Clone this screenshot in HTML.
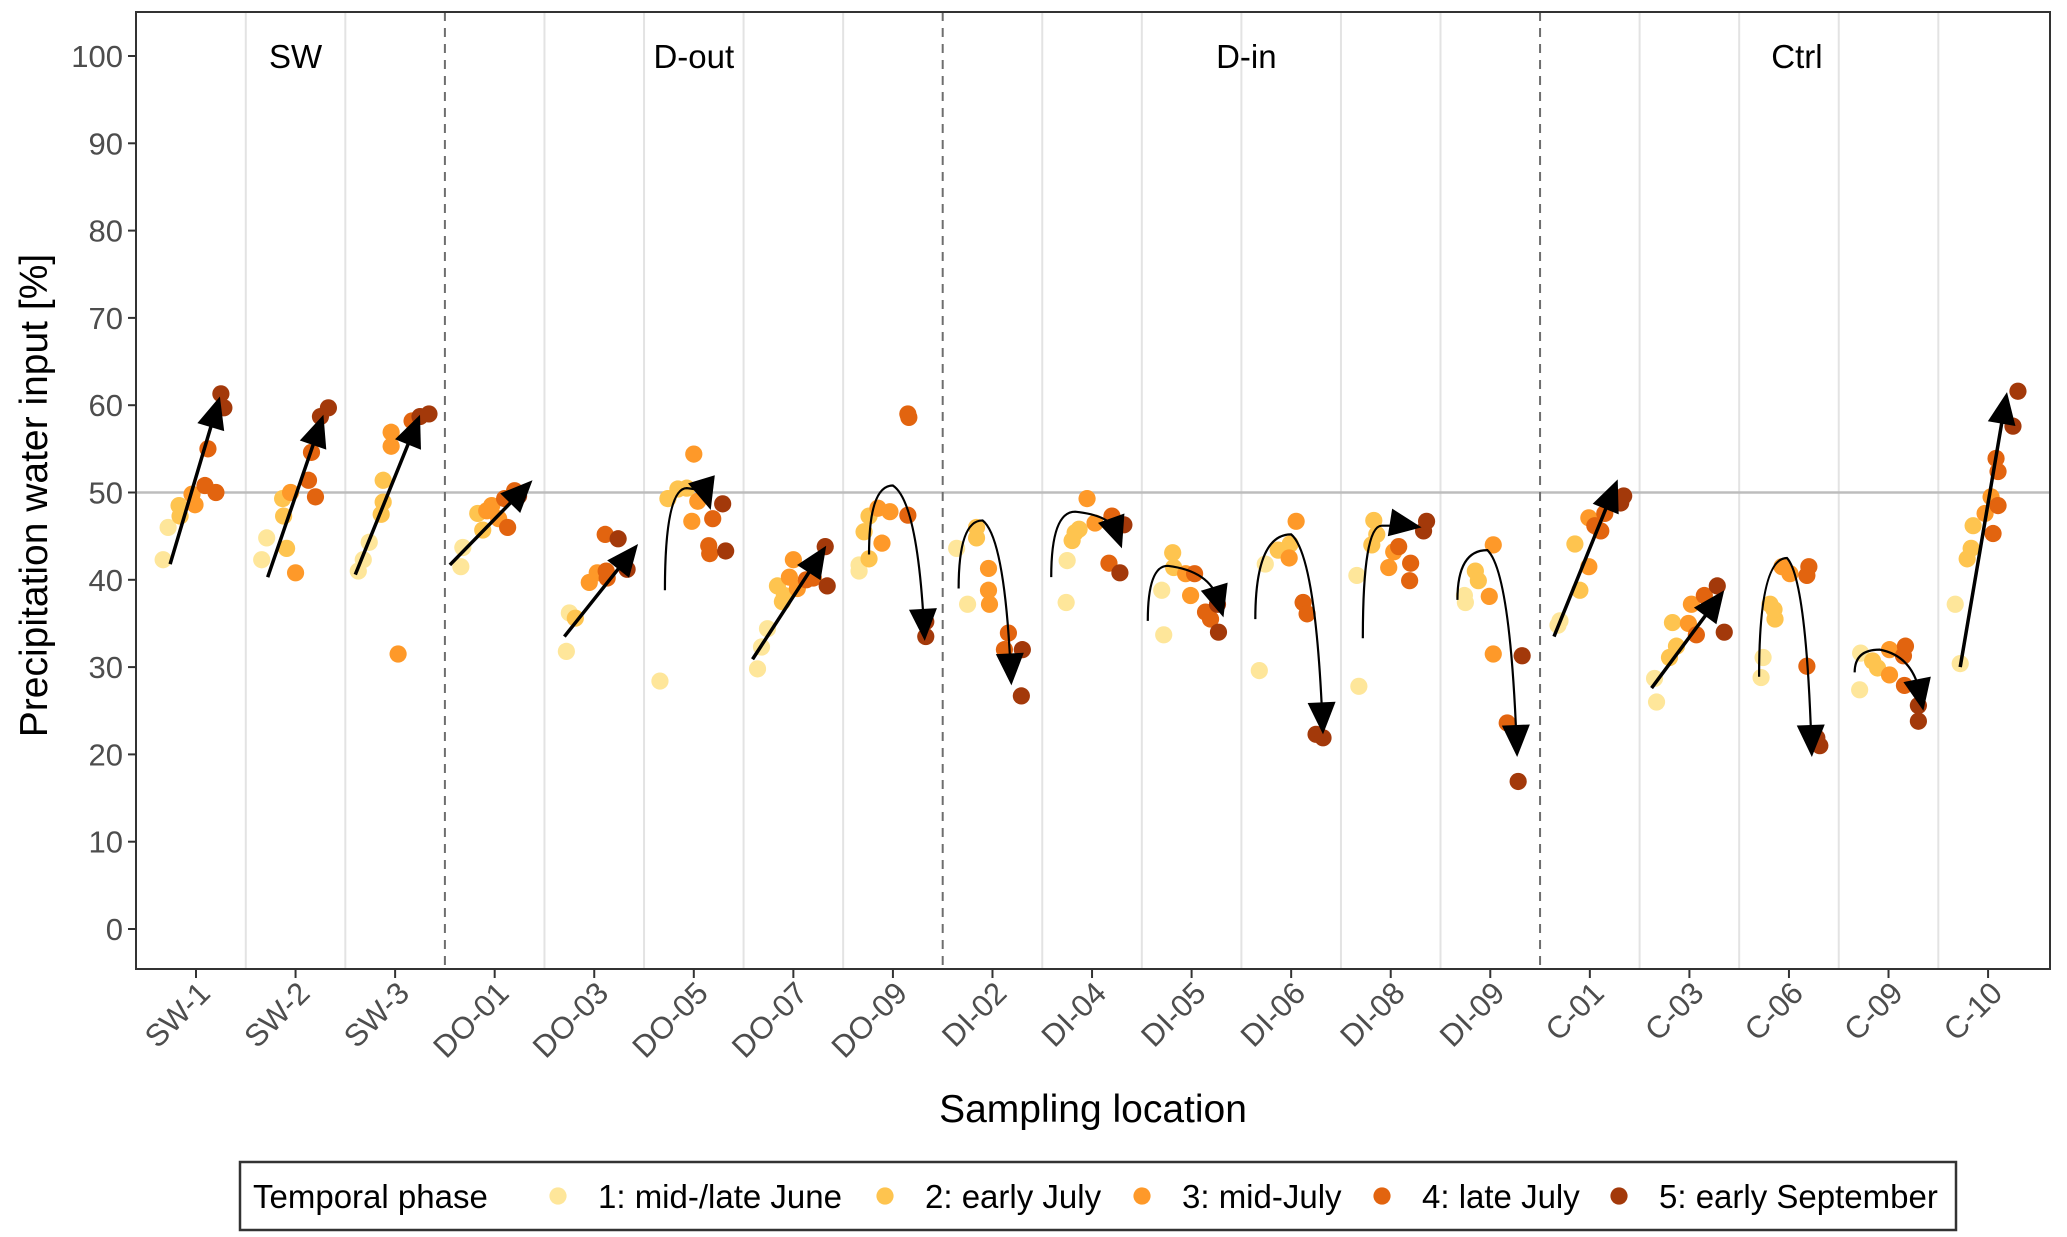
<!DOCTYPE html>
<html><head><meta charset="utf-8"><style>
body{margin:0;background:#fff}
svg{display:block;font-family:"Liberation Sans",sans-serif}
</style></head><body>
<svg id="chart" width="2067" height="1237" viewBox="0 0 2067 1237" xmlns="http://www.w3.org/2000/svg">
<g id="grid"></g>
<g id="marks"></g>
<g id="arrows"></g>
<g id="axes"></g>
<g id="legend"></g>
</svg>
<script>
const categories=["SW-1","SW-2","SW-3","DO-01","DO-03","DO-05","DO-07","DO-09","DI-02","DI-04","DI-05","DI-06","DI-08","DI-09","C-01","C-03","C-06","C-09","C-10"];
const yTicks=[0,10,20,30,40,50,60,70,80,90,100];
const groupLabels=["SW","D-out","D-in","Ctrl"];
const groupPos=[1,5,10.55,16.08];
const groupBreaks=[2.5,7.5,13.5];
const phaseLabels=["1: mid-/late June","2: early July","3: mid-July","4: late July","5: early September"];
const phaseColors=["#fee69a","#fec44f","#fe9929","#e2640f","#a3390a"];
// points: [category index, jitter (category units), value, phase]
const points=[
[0,-0.33,42.3,1],[0,-0.28,46,1],[0,-0.17,48.5,2],[0,-0.16,47.3,2],[0,-0.04,49.8,3],[0,-0.01,48.6,3],[0,0.09,50.8,4],[0,0.12,55,4],[0,0.2,50,4],[0,0.25,61.3,5],[0,0.28,59.7,5],
[1,-0.34,42.3,1],[1,-0.29,44.8,1],[1,-0.13,49.3,2],[1,-0.12,47.3,2],[1,-0.09,43.6,2],[1,-0.05,50,3],[1,0,40.8,3],[1,0.13,51.4,4],[1,0.16,54.6,4],[1,0.2,49.5,4],[1,0.25,58.7,5],[1,0.33,59.7,5],
[2,-0.37,41,1],[2,-0.32,42.3,1],[2,-0.26,44.3,1],[2,-0.12,51.4,2],[2,-0.14,47.5,2],[2,-0.12,48.9,2],[2,-0.04,56.9,3],[2,-0.04,55.3,3],[2,0.03,31.5,3],[2,0.17,58.2,4],[2,0.25,58.7,5],[2,0.34,59,5],
[3,-0.34,41.5,1],[3,-0.32,43.7,1],[3,-0.17,47.6,2],[3,-0.12,45.7,2],[3,-0.08,47.9,3],[3,-0.03,48.5,3],[3,0.04,47,3],[3,0.13,46,4],[3,0.1,49.3,4],[3,0.24,49.6,5],[3,0.2,50.2,4],
[4,-0.28,31.8,1],[4,-0.25,36.2,1],[4,-0.19,35.6,2],[4,-0.05,39.7,3],[4,0.03,40.8,3],[4,0.12,41,4],[4,0.11,45.2,4],[4,0.13,40.2,4],[4,0.24,44.7,5],[4,0.33,41.2,5],
[5,-0.34,28.4,1],[5,-0.26,49.3,2],[5,-0.16,50.4,2],[5,-0.07,50.5,2],[5,-0.02,46.7,3],[5,0,54.4,3],[5,0.04,49,3],[5,0.15,43.9,4],[5,0.16,43,4],[5,0.19,47,4],[5,0.29,48.7,5],[5,0.32,43.3,5],
[6,-0.36,29.8,1],[6,-0.32,32.3,1],[6,-0.26,34.4,1],[6,-0.16,39.3,2],[6,-0.09,38.2,2],[6,-0.11,37.5,2],[6,-0.04,40.3,3],[6,0,42.3,3],[6,0.04,39,3],[6,0.13,40,4],[6,0.2,40.2,4],[6,0.32,43.8,5],[6,0.34,39.3,5],
[7,-0.34,41.7,1],[7,-0.34,41,1],[7,-0.29,45.5,2],[7,-0.24,42.4,2],[7,-0.24,47.3,2],[7,-0.15,48.2,3],[7,-0.11,44.2,3],[7,-0.03,47.8,3],[7,0.15,47.4,4],[7,0.15,59,4],[7,0.16,58.6,4],[7,0.33,35.2,5],[7,0.33,33.5,5],
[8,-0.36,43.6,1],[8,-0.25,37.2,1],[8,-0.16,46,2],[8,-0.16,44.8,2],[8,-0.04,41.3,3],[8,-0.04,38.8,3],[8,-0.03,37.2,3],[8,0.16,33.9,4],[8,0.12,32,4],[8,0.3,32,5],[8,0.29,26.7,5],
[9,-0.26,37.4,1],[9,-0.25,42.2,1],[9,-0.2,44.5,2],[9,-0.17,45.4,2],[9,-0.13,45.8,2],[9,-0.05,49.3,3],[9,0.03,46.5,3],[9,0.17,41.9,4],[9,0.2,47.3,4],[9,0.28,40.8,5],[9,0.32,46.3,5],
[10,-0.28,33.7,1],[10,-0.3,38.8,1],[10,-0.19,43.1,2],[10,-0.18,41.4,2],[10,-0.06,40.7,3],[10,-0.01,38.2,3],[10,0.03,40.7,4],[10,0.14,36.3,4],[10,0.19,35.5,4],[10,0.26,37.2,5],[10,0.27,34,5],
[11,-0.32,29.6,1],[11,-0.26,41.8,1],[11,-0.13,43.4,2],[11,-0.01,44.1,2],[11,-0.02,42.5,3],[11,0.05,46.7,3],[11,0.12,37.4,4],[11,0.16,36.1,4],[11,0.25,22.3,5],[11,0.32,21.9,5],
[12,-0.32,27.8,1],[12,-0.34,40.5,1],[12,-0.17,46.8,2],[12,-0.14,45.2,2],[12,-0.19,44,2],[12,-0.02,41.4,3],[12,0.03,43.2,3],[12,0.08,43.8,4],[12,0.2,41.9,4],[12,0.19,39.9,4],[12,0.33,45.6,5],[12,0.36,46.7,5],
[13,-0.25,37.4,1],[13,-0.26,38.2,1],[13,-0.15,41,2],[13,-0.12,39.9,2],[13,0.03,44,3],[13,-0.01,38.1,3],[13,0.03,31.5,3],[13,0.17,23.6,4],[13,0.32,31.3,5],[13,0.28,16.9,5],
[14,-0.32,34.8,1],[14,-0.3,35.3,1],[14,-0.15,44.1,2],[14,-0.1,38.8,2],[14,-0.01,41.5,3],[14,-0.01,47.1,3],[14,0.05,46.2,4],[14,0.11,45.6,4],[14,0.15,47.6,4],[14,0.31,48.8,5],[14,0.34,49.6,5],
[15,-0.33,26,1],[15,-0.35,28.7,1],[15,-0.17,35.1,2],[15,-0.13,32.4,2],[15,-0.2,31.1,2],[15,0.02,37.2,3],[15,-0.01,35,3],[15,0.07,33.7,4],[15,0.15,38.2,4],[15,0.28,39.3,5],[15,0.35,34,5],
[16,-0.28,28.8,1],[16,-0.26,31.1,1],[16,-0.19,37.2,2],[16,-0.14,35.5,2],[16,-0.15,36.6,2],[16,-0.07,41.5,3],[16,0.01,40.7,3],[16,0.2,41.5,4],[16,0.18,40.5,4],[16,0.18,30.1,4],[16,0.31,21,5],[16,0.28,21.9,5],
[17,-0.29,27.4,1],[17,-0.28,31.6,1],[17,-0.16,30.7,2],[17,-0.11,29.9,2],[17,0.01,29.1,3],[17,0.01,32,3],[17,0.15,31.3,4],[17,0.17,32.4,4],[17,0.16,27.9,4],[17,0.3,23.8,5],[17,0.3,25.6,5],
[18,-0.33,37.2,1],[18,-0.28,30.4,1],[18,-0.21,42.4,2],[18,-0.17,43.6,2],[18,-0.15,46.2,2],[18,-0.03,47.6,3],[18,0.03,49.5,3],[18,0.05,45.3,4],[18,0.1,48.5,4],[18,0.1,52.4,4],[18,0.08,53.9,4],[18,0.25,57.6,5],[18,0.3,61.6,5]
];
// straight trend arrows: [cat, startDx, startVal, tipDx, tipVal]
const straightArrows=[
[0,-0.26,41.8,0.24,61],[1,-0.28,40.3,0.28,58.9],[2,-0.4,40.6,0.25,58.9],[3,-0.45,41.7,0.38,51.4],
[4,-0.3,33.5,0.44,44.1],[6,-0.41,30.9,0.33,43.9],[14,-0.36,33.5,0.28,51.5],[15,-0.38,27.6,0.35,38.8],[18,-0.28,30,0.19,61.5]
];
// curved trend arrows: [cat, startDx, startVal, peakDx, peakVal, tipDx, tipVal]
const curvedArrows=[
[5,-0.29,38.8,-0.07,50.5,0.17,48],[7,-0.24,42.9,0,50.8,0.32,33],[8,-0.34,39,-0.1,46.8,0.19,27.9],
[9,-0.41,40.3,-0.17,47.8,0.3,43.6],[10,-0.44,35.3,-0.24,41.6,0.32,35.7],[11,-0.36,35.5,0,45.2,0.32,22.3],
[12,-0.28,33.3,-0.09,46.2,0.31,46],[13,-0.33,37.7,-0.03,43.4,0.27,19.7],[16,-0.3,28.9,-0.02,42.5,0.23,19.7],
[17,-0.34,29.4,-0.09,32,0.35,25]
];

const NS="http://www.w3.org/2000/svg";
const L=136,R=2050,T=12,B=969;
const x=c=>196+c*99.56;
const y=v=>929-v*8.73;
function mk(tag,attrs,parent,text){const e=document.createElementNS(NS,tag);for(const k in attrs)e.setAttribute(k,attrs[k]);if(text!==undefined)e.textContent=text;parent.appendChild(e);return e;}
const grid=document.getElementById('grid'),marks=document.getElementById('marks'),arrows=document.getElementById('arrows'),axes=document.getElementById('axes'),legend=document.getElementById('legend');

for(let i=0;i<categories.length-1;i++){
  const b=i+0.5;
  if(groupBreaks.includes(b))continue;
  const ln=mk('line',{x1:x(b),x2:x(b),y1:T,y2:B,stroke:'#e3e3e3','stroke-width':2},grid);
  
  
}
const hl=mk('line',{x1:L,x2:R,y1:y(50),y2:y(50),stroke:'#bdbdbd','stroke-width':2.5},grid);


groupBreaks.forEach(b=>{
  const ln=mk('line',{x1:x(b),x2:x(b),y1:T,y2:B,stroke:'#6e6e6e','stroke-width':2,'stroke-dasharray':'9,7'},grid);
  
  
});
groupLabels.forEach((g,i)=>{
  const t=mk('text',{x:x(groupPos[i]),y:y(100)+12,'font-size':33,'text-anchor':'middle',fill:'#000'},grid,g);
  
  
});

points.forEach(p=>{
  const c=mk('circle',{cx:x(p[0]+p[1]),cy:y(p[2]),r:8.6,fill:phaseColors[p[3]-1]},marks);
  
  
});

function head(tx,ty,ux,uy){
  const len=32,w=14;const bx=tx-ux*len,by=ty-uy*len;const px=-uy,py=ux;
  const h=mk('polygon',{points:`${tx},${ty} ${bx+px*w},${by+py*w} ${bx-px*w},${by-py*w}`,fill:'#000'},arrows);
  
  
}
straightArrows.forEach(a=>{
  const x1=x(a[0]+a[1]),y1=y(a[2]),x2=x(a[0]+a[3]),y2=y(a[4]);
  const d=Math.hypot(x2-x1,y2-y1),ux=(x2-x1)/d,uy=(y2-y1)/d;
  const ln=mk('line',{x1:x1,y1:y1,x2:x2-ux*20,y2:y2-uy*20,stroke:'#000','stroke-width':3.5},arrows);
  
  
  head(x2,y2,ux,uy);
});
curvedArrows.forEach(a=>{
  const sx=x(a[0]+a[1]),sy=y(a[2]),px=x(a[0]+a[3]),py=y(a[4]),tx=x(a[0]+a[5]),ty=y(a[6]);
  const c1x=sx,c1y=py;
  const c2x=px+0.75*(tx-px),c2y=py+0.1*(ty-py);
  const d=Math.hypot(tx-c2x,ty-c2y),ux=(tx-c2x)/d,uy=(ty-c2y)/d;
  const pth=mk('path',{d:`M${sx},${sy} Q${c1x},${c1y} ${px},${py} Q${c2x},${c2y} ${tx-ux*18},${ty-uy*18}`,fill:'none',stroke:'#000','stroke-width':2.2},arrows);
  
  
  head(tx,ty,ux,uy);
});

const fr=mk('rect',{x:L,y:T,width:R-L,height:B-T,fill:'none',stroke:'#333','stroke-width':2},axes);


yTicks.forEach(v=>{
  const tk=mk('line',{x1:L-8,x2:L,y1:y(v),y2:y(v),stroke:'#333','stroke-width':2},axes);
  
  
  const t=mk('text',{x:L-13,y:y(v)+11,'font-size':31,'text-anchor':'end',fill:'#4d4d4d'},axes,String(v));
  
  
});
categories.forEach((c,i)=>{
  const tk=mk('line',{x1:x(i),x2:x(i),y1:B,y2:B+9,stroke:'#333','stroke-width':2},axes);
  
  
  const t=mk('text',{x:0,y:0,'font-size':31,'text-anchor':'end',fill:'#4d4d4d',transform:`translate(${x(i)+16},${B+26}) rotate(-45)`},axes,c);
  
  
});
const yt=mk('text',{x:0,y:0,'font-size':39,'text-anchor':'middle',fill:'#000',transform:`translate(47,${(T+B)/2+5}) rotate(-90)`},axes,'Precipitation water input [%]');


const xt=mk('text',{x:(L+R)/2,y:1122,'font-size':39,'text-anchor':'middle',fill:'#000'},axes,'Sampling location');



const lb=mk('rect',{x:240,y:1162,width:1716,height:68,fill:'#fff',stroke:'#333','stroke-width':2.5},legend);


const lt=mk('text',{x:253,y:1208,'font-size':33,fill:'#000'},legend,'Temporal phase');


const dotX=[558,885,1142,1382,1619];
phaseLabels.forEach((p,i)=>{
  const c=mk('circle',{cx:dotX[i],cy:1196,r:8.6,fill:phaseColors[i]},legend);
  
  
  const t=mk('text',{x:dotX[i]+40,y:1208,'font-size':33,fill:'#000'},legend,p);
  
  
});
</script>
</body></html>
